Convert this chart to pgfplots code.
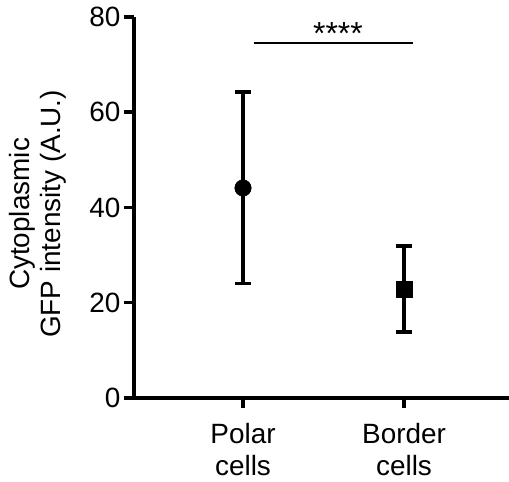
\documentclass[border=0pt]{standalone}
\usepackage{fontspec}
\setmainfont{Liberation Sans}
\usepackage{pgfplots}
\pgfplotsset{compat=1.18}

\begin{document}
\begin{tikzpicture}
\begin{axis}[
  scale only axis,
  width=375bp, height=381bp,
  xmin=-0.677, xmax=1.652,
  ymin=0, ymax=80,
  axis x line=bottom, axis y line=left,
  axis line style={line width=4bp, -},
  tick align=outside,
  major tick length=10bp,
  major tick style={line width=3.5bp, black},
  xtick={0,1},
  xticklabels={Polar\\cells, Border\\cells},
  ytick={0,20,40,60,80},
  /pgf/number format/assume math mode=true,
  tick label style={font=\fontsize{28}{32}\selectfont},
  xticklabel style={align=center, yshift=-12bp},
  ylabel={Cytoplasmic\\GFP intensity (A.U.)},
  ylabel style={align=center, font=\fontsize{28}{32}\selectfont,
    at={(axis description cs:-0.1787,0.483)}, anchor=south, inner sep=0pt},
  clip=false,
]
\coordinate (bl) at (rel axis cs:0,0);
\coordinate (tr) at (rel axis cs:1,1);

\addplot[only marks, mark=*, mark size=8.3bp, black,
  error bars/.cd, y dir=both, y explicit,
  error bar style={line width=3.5bp, black},
  error mark options={rotate=90, line width=3.5bp, mark size=8bp, black}]
  coordinates {(0,44.1) +- (0,20.1)};

\addplot[only marks, mark=square*, mark size=8bp, black,
  error bars/.cd, y dir=both, y explicit,
  error bar style={line width=3.5bp, black},
  error mark options={rotate=90, line width=3.5bp, mark size=8bp, black}]
  coordinates {(1,22.9) +- (0,9.0)};

\addplot[line width=2bp, black] coordinates {(0.068,74.5) (1.056,74.5)};
\node[anchor=base, inner sep=0pt, font=\fontsize{32}{32}\selectfont]
  at (axis cs:0.59,74.3) {****};
\end{axis}
\pgfresetboundingbox
\path[use as bounding box] ([shift={(-134bp,-84bp)}]bl) rectangle ([shift={(0bp,17bp)}]tr);
\end{tikzpicture}
\end{document}
